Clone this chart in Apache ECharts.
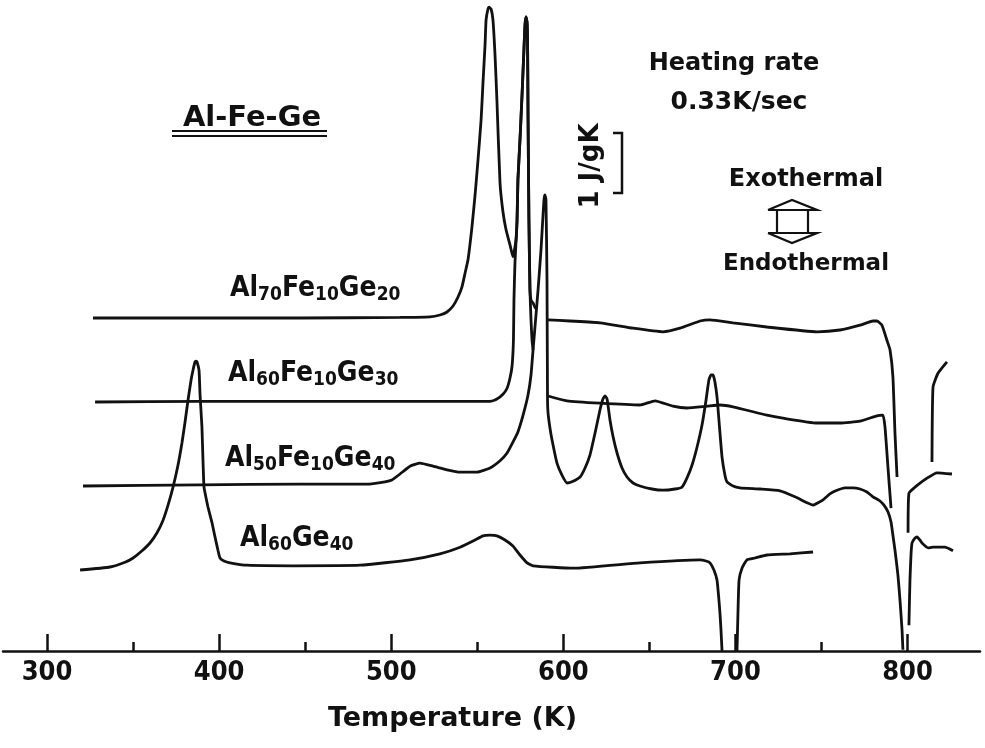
<!DOCTYPE html>
<html>
<head>
<meta charset="utf-8">
<script src="https://cdn.jsdelivr.net/npm/echarts@6/dist/echarts.min.js"></script>
<style>
html, body { margin: 0; padding: 0; background: #fff; }
#app { width: 985px; height: 748px; }
</style>
</head>
<body>
<div id="app"></div>
<script>
// axis ticks (K)
var majorTicks = [300, 400, 500, 600, 700, 800];
var minorTicks = [350, 450, 550, 650, 750];

// DSC traces: [temperature K, signal J/gK incl. vertical offset], split where the pen trace breaks
var al70Fe10Ge20 = [
    [[326.7, 5.55], [388.9, 5.55], [447.0, 5.55], [505.1, 5.56], [522.5, 5.57], [528.3, 5.60], [532.4, 5.65],
     [535.9, 5.75], [538.8, 5.90], [541.1, 6.07], [542.9, 6.30], [544.6, 6.52], [546.9, 7.07], [548.7, 7.60],
     [550.4, 8.18], [552.2, 8.85], [553.3, 9.47], [554.5, 10.10], [555.1, 10.52], [556.2, 10.70], [556.8, 10.73],
     [558.0, 10.70], [559.1, 10.52], [560.3, 9.93], [561.4, 9.18], [563.2, 7.80], [564.9, 7.32], [566.7, 7.02],
     [569.0, 6.77], [570.7, 6.57], [572.5, 6.85], [573.1, 7.18], [573.6, 7.85], [574.8, 8.52], [576.0, 9.27],
     [577.1, 10.02], [577.7, 10.43], [578.3, 10.57], [578.9, 10.48], [579.2, 10.18], [579.5, 8.85], [580.0, 7.18],
     [580.6, 6.02], [581.2, 5.85], [582.4, 5.80], [583.5, 5.73], [584.4, 5.70]],
    [[591.1, 5.52], [603.9, 5.50], [621.3, 5.47], [640.5, 5.38], [657.9, 5.32], [667.8, 5.38], [679.4, 5.50],
     [685.2, 5.52], [698.6, 5.47], [718.3, 5.40], [747.4, 5.32], [760.7, 5.35], [772.4, 5.43], [779.9, 5.50],
     [782.2, 5.50], [785.1, 5.43], [788.0, 5.18], [789.8, 5.02], [791.5, 4.57], [792.7, 3.63], [793.9, 2.90]],
    [[814.2, 3.15], [814.8, 4.40], [817.7, 4.63], [822.9, 4.82]]
];

var al60Fe10Ge30 = [
    [[327.9, 4.15], [388.9, 4.16], [447.0, 4.16], [505.1, 4.16], [557.4, 4.16], [561.4, 4.20], [564.9, 4.28],
     [567.3, 4.38], [569.0, 4.55], [570.2, 4.75], [571.0, 5.18], [571.3, 5.85], [571.9, 6.48], [573.1, 7.18],
     [573.6, 7.85], [574.8, 8.52], [576.0, 9.27], [577.1, 10.02], [577.7, 10.43], [578.3, 10.57], [578.9, 10.48],
     [579.2, 10.18], [579.5, 8.85], [580.0, 7.18], [580.6, 6.02], [581.2, 5.52], [581.8, 5.18], [582.4, 5.02]],
    [[591.1, 4.25], [602.1, 4.17], [621.3, 4.13], [644.5, 4.10], [653.3, 4.17], [663.7, 4.08], [671.8, 4.05],
     [683.5, 4.08], [691.0, 4.10], [698.6, 4.07], [718.3, 3.93], [727.6, 3.88], [747.4, 3.80], [760.7, 3.80],
     [772.4, 3.83], [782.2, 3.92], [785.7, 3.93], [786.9, 3.73], [788.6, 3.07], [790.4, 2.38]],
    [[800.3, 1.97], [800.8, 2.63], [804.3, 2.73], [811.3, 2.88], [817.1, 2.97], [825.8, 2.95]]
];

var al50Fe10Ge40 = [
    [[320.9, 2.75], [388.9, 2.77], [447.0, 2.78], [485.9, 2.78], [496.4, 2.82], [500.4, 2.85], [505.1, 2.95],
     [510.9, 3.08], [516.7, 3.13], [524.3, 3.08], [532.4, 3.02], [540.0, 2.98], [549.8, 2.98], [557.4, 3.05],
     [563.2, 3.17], [567.3, 3.30], [570.7, 3.48], [573.6, 3.65], [576.6, 3.93], [579.5, 4.27], [581.2, 4.60],
     [582.4, 5.02], [584.1, 5.60], [585.3, 6.02], [587.0, 6.68], [588.2, 7.27], [588.8, 7.53], [589.3, 7.60],
     [589.9, 7.52], [590.5, 6.18], [590.8, 4.18], [591.1, 3.97], [592.2, 3.72], [593.4, 3.52], [596.3, 3.13],
     [599.2, 2.93], [602.1, 2.80], [605.0, 2.82], [609.7, 2.90], [612.6, 3.05], [615.5, 3.27], [618.4, 3.63],
     [621.3, 4.02], [623.0, 4.20], [624.2, 4.25], [625.4, 4.20], [627.1, 3.85], [628.9, 3.57], [631.2, 3.30],
     [634.1, 3.05], [637.0, 2.90], [640.5, 2.80], [644.5, 2.75], [651.5, 2.70], [657.9, 2.68], [664.9, 2.70],
     [668.9, 2.73], [671.8, 2.88], [674.8, 3.10], [677.7, 3.40], [680.6, 3.77], [682.9, 4.18], [684.6, 4.52],
     [685.8, 4.60], [687.0, 4.60], [688.1, 4.48], [689.3, 4.23], [690.4, 3.85], [692.2, 3.23], [693.9, 2.93],
     [695.1, 2.82], [698.6, 2.75], [702.6, 2.72], [714.3, 2.70], [725.9, 2.67], [734.6, 2.57], [741.6, 2.47],
     [745.1, 2.43], [748.0, 2.47], [750.9, 2.52], [754.9, 2.62], [759.0, 2.68], [763.6, 2.72], [768.3, 2.72],
     [772.4, 2.70], [776.4, 2.65], [779.9, 2.57], [784.0, 2.50], [786.3, 2.43], [788.6, 2.32], [790.4, 2.15],
     [791.5, 1.93], [792.7, 1.68], [794.4, 1.27], [795.6, 0.85], [796.8, 0.35], [797.3, 0.02]],
    [[800.8, 0.43], [801.4, 1.18], [802.0, 1.60], [802.6, 1.80], [804.3, 1.88], [805.5, 1.90], [807.2, 1.85],
     [808.4, 1.80], [811.9, 1.72], [814.8, 1.73], [817.1, 1.73], [821.7, 1.73], [826.4, 1.67]]
];

var al60Ge40 = [
    [[319.2, 1.35], [336.6, 1.40], [345.3, 1.48], [350.0, 1.55], [355.2, 1.67], [359.8, 1.80], [363.9, 1.97],
     [367.4, 2.18], [370.3, 2.43], [373.2, 2.73], [376.1, 3.10], [378.4, 3.47], [380.2, 3.82], [381.9, 4.18],
     [383.7, 4.52], [384.8, 4.68], [386.0, 4.82], [386.6, 4.83], [387.1, 4.82], [388.3, 4.68], [388.9, 4.27],
     [390.0, 3.73], [390.6, 3.18], [391.2, 2.73], [392.4, 2.55], [393.5, 2.40], [395.9, 2.13], [397.6, 1.90],
     [399.3, 1.68], [400.5, 1.55], [402.8, 1.50], [406.3, 1.47], [416.2, 1.43], [442.9, 1.42], [481.9, 1.43],
     [510.9, 1.52], [528.3, 1.62], [540.0, 1.73], [548.7, 1.85], [553.3, 1.92], [557.4, 1.93], [561.4, 1.92],
     [566.1, 1.85], [570.7, 1.75], [574.8, 1.60], [578.9, 1.47], [582.4, 1.42], [605.6, 1.38], [644.5, 1.47],
     [679.4, 1.52], [682.9, 1.50], [685.2, 1.47], [687.5, 1.35], [689.3, 1.18], [690.4, 0.85], [691.0, 0.63],
     [691.6, 0.35], [692.2, 0.00]],
    [[700.9, 0.00], [701.5, 0.68], [702.1, 1.18], [703.8, 1.38], [706.7, 1.52], [711.4, 1.55], [718.3, 1.60],
     [731.7, 1.62], [745.1, 1.65]]
];

var ink = '#111';
var narrowFont = '"DejaVu Sans Condensed", "DejaVu Sans", sans-serif';
var textFont = '"DejaVu Sans", sans-serif';

// one data list per trace, '-' breaks the line between pen segments
function joinSegments(segs) {
    var out = [];
    segs.forEach(function (seg, i) {
        if (i > 0) out.push(['-', '-']);
        out = out.concat(seg);
    });
    return out;
}

function trace(segs) {
    return {
        type: 'line',
        data: joinSegments(segs),
        xAxisIndex: 0,
        symbol: 'none',
        smooth: 0.15,
        connectNulls: false,
        clip: false,
        silent: true,
        lineStyle: { color: ink, width: 2.8 }
    };
}

function compound(x, y, parts) {
    // parts: [main, sub, main, sub, ...]
    var text = parts.map(function (p, i) { return '{' + (i % 2 ? 's' : 'm') + '|' + p + '}'; }).join('');
    return {
        type: 'text', x: x, y: y,
        style: {
            text: text, fill: ink, align: 'left', verticalAlign: 'top',
            rich: {
                m: { font: 'bold 28px ' + narrowFont, lineHeight: 30, verticalAlign: 'top' },
                s: { font: 'bold 19px ' + narrowFont, lineHeight: 15, verticalAlign: 'bottom' }
            }
        }
    };
}

function label(x, y, text, size, rot) {
    return {
        type: 'text', x: x, y: y, rotation: rot || 0,
        style: { text: text, font: 'bold ' + size + 'px ' + textFont, fill: ink, align: 'center', verticalAlign: 'middle' }
    };
}

function seg(points, w) {
    return { type: 'polyline', shape: { points: points }, style: { stroke: ink, lineWidth: w || 2.2, fill: null } };
}

var myEchart = echarts.init(document.getElementById('app'));

myEchart.setOption({
    animation: false,
    backgroundColor: '#fff',
    grid: { left: 3, right: 5, top: 0, bottom: 97 },
    xAxis: [{
        type: 'value', min: 274.4, max: 842.1, position: 'bottom',
        splitLine: { show: false },
        axisLine: { lineStyle: { color: ink, width: 2.5 } },
        axisTick: { inside: true, length: 17, customValues: majorTicks, lineStyle: { color: ink, width: 2.5 } },
        axisLabel: { customValues: majorTicks, color: ink, fontSize: 27, fontWeight: 'bold', fontFamily: narrowFont, margin: 8 },
        name: 'Temperature (K)', nameLocation: 'middle', nameGap: 54,
        nameTextStyle: { color: ink, fontSize: 27, fontWeight: 'bold', fontFamily: textFont, padding: [0, 78, 0, 0] }
    }, {
        type: 'value', min: 274.4, max: 842.1, position: 'bottom',
        splitLine: { show: false },
        axisLine: { show: false },
        axisLabel: { show: false },
        axisTick: { inside: true, length: 9, customValues: minorTicks, lineStyle: { color: ink, width: 2.5 } }
    }],
    yAxis: { type: 'value', min: 0, max: 10.85, show: false },
    series: [trace(al70Fe10Ge20), trace(al60Fe10Ge30), trace(al50Fe10Ge40), trace(al60Ge40)],
    graphic: [
        label(252, 118, 'Al-Fe-Ge', 29),
        seg([[172, 131], [327, 131]], 2),
        seg([[172, 136], [327, 136]], 2),
        compound(230, 274.5, ['Al', '70', 'Fe', '10', 'Ge', '20']),
        compound(228, 359.5, ['Al', '60', 'Fe', '10', 'Ge', '30']),
        compound(225, 444.5, ['Al', '50', 'Fe', '10', 'Ge', '40']),
        compound(240, 524.5, ['Al', '60', 'Ge', '40']),
        label(734, 64, 'Heating rate', 24),
        label(739, 102, '0.33K/sec', 25),
        label(591, 166, '1 J/gK', 26, Math.PI / 2),
        seg([[613, 133], [622, 133], [622, 193], [613, 193]], 2.5),
        label(806, 180, 'Exothermal', 24),
        seg([[768, 210], [792, 200], [817, 210], [768, 210]]),
        seg([[777, 210], [777, 233]]),
        seg([[808, 210], [808, 233]]),
        seg([[768, 233], [792, 243], [817, 233], [768, 233]]),
        label(806, 264, 'Endothermal', 23)
    ]
});
</script>
</body>
</html>
